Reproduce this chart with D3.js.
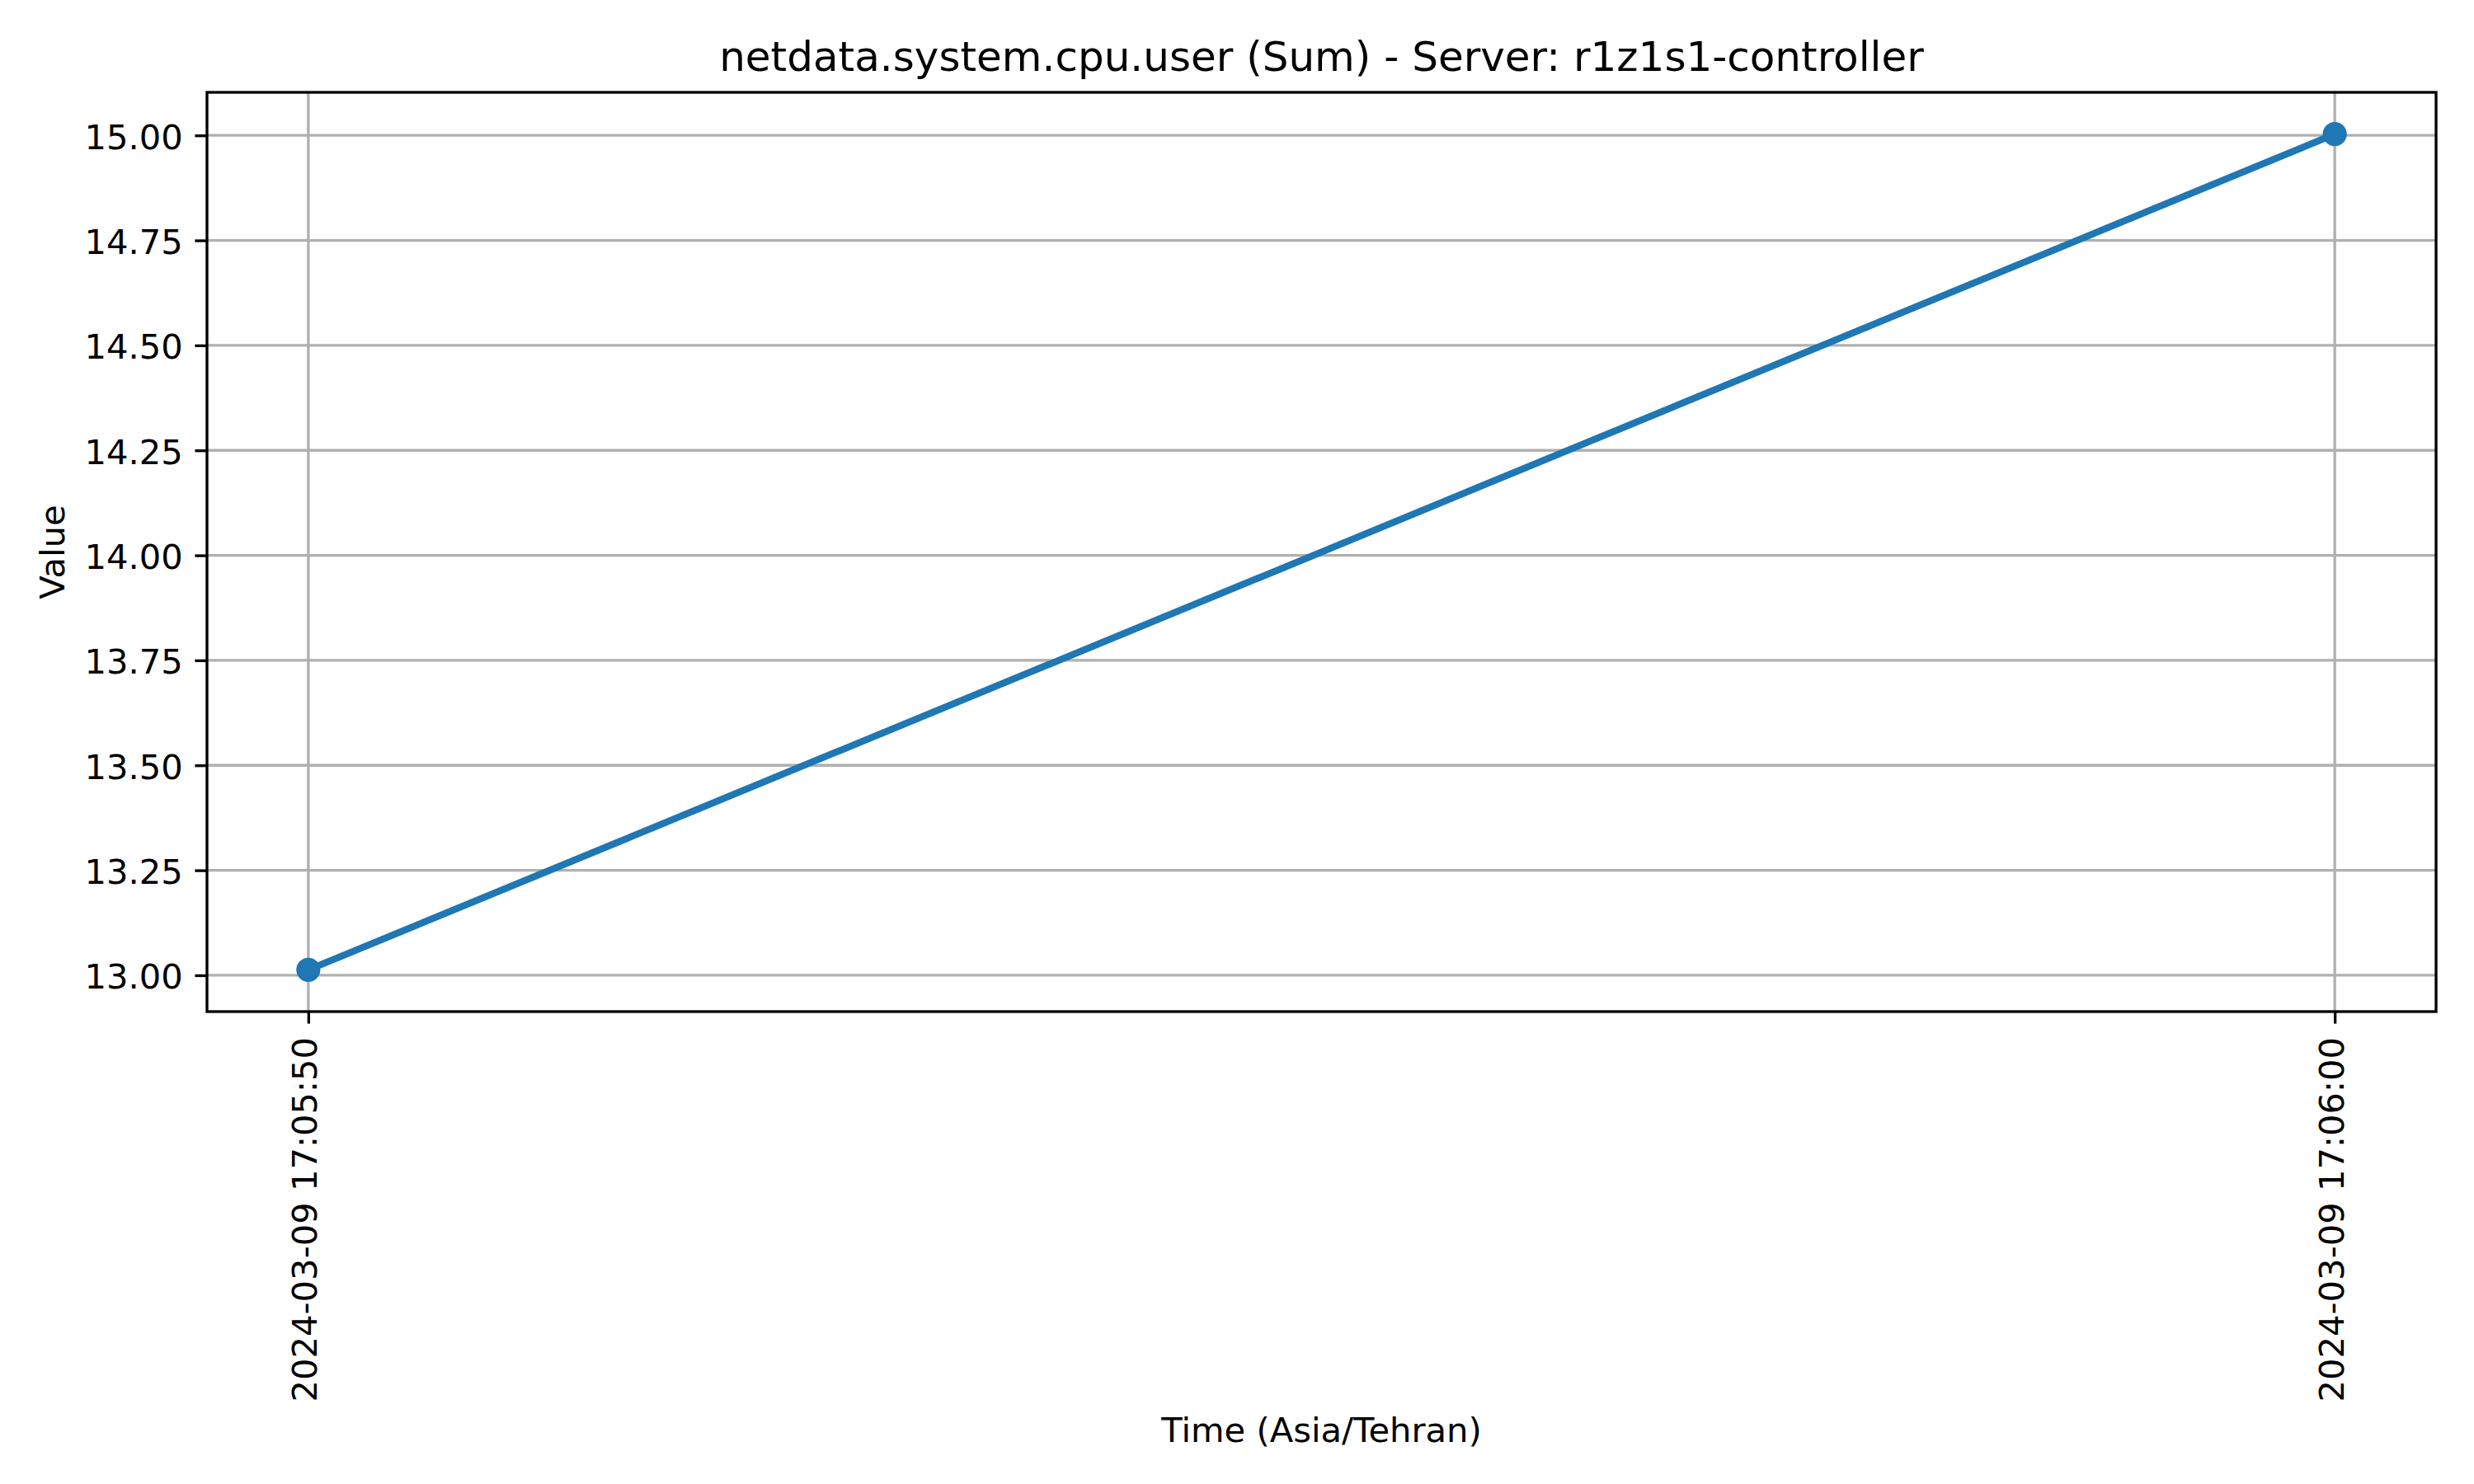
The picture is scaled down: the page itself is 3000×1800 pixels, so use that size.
<!DOCTYPE html>
<html>
<head>
<meta charset="utf-8">
<script src="https://cdn.jsdelivr.net/npm/d3@7"></script>
<style>
  html, body { margin: 0; padding: 0; background: #fff; }
  svg { display: block; font-family: "DejaVu Sans", sans-serif; }
</style>
</head>
<body>
<svg id="chart" width="3000" height="1800"></svg>
<script>
// ---- data ----
const times = ["2024-03-09 17:05:50", "2024-03-09 17:06:00"];
const values = [13.013, 15.003];
const yTicks = [13.00, 13.25, 13.50, 13.75, 14.00, 14.25, 14.50, 14.75, 15.00];
const titleText = "netdata.system.cpu.user (Sum) - Server: r1z1s1-controller";
const xLabel = "Time (Asia/Tehran)";
const yLabel = "Value";

// ---- layout ----
const W = 3000, H = 1800;
const mL = 251, mR = 2954, mT = 112, mB = 1227;
const color = "#1f77b4";
const fs = 41.67;

const parse = d3.timeParse("%Y-%m-%d %H:%M:%S");
const fmt = d3.timeFormat("%Y-%m-%d %H:%M:%S");
const data = times.map((t, i) => ({ t: parse(t), v: values[i] }));

const svg = d3.select("#chart");
svg.append("rect").attr("width", W).attr("height", H).attr("fill", "#fff");

const tExt = d3.extent(data, d => d.t);
const tSpan = tExt[1] - tExt[0];
const x = d3.scaleTime()
  .domain([new Date(+tExt[0] - 0.05 * tSpan), new Date(+tExt[1] + 0.05 * tSpan)])
  .range([mL, mR]);

const vExt = d3.extent(data, d => d.v);
const vSpan = vExt[1] - vExt[0];
const y = d3.scaleLinear()
  .domain([vExt[0] - 0.05 * vSpan, vExt[1] + 0.05 * vSpan])
  .range([mB, mT]);

// grid
const grid = svg.append("g");
grid.selectAll("line.gx").data(data).enter().append("line")
  .attr("x1", d => x(d.t)).attr("x2", d => x(d.t))
  .attr("y1", mT).attr("y2", mB)
  .attr("stroke", "#b0b0b0").attr("stroke-width", 3.33);
grid.selectAll("line.gy").data(yTicks).enter().append("line")
  .attr("x1", mL).attr("x2", mR)
  .attr("y1", d => y(d)).attr("y2", d => y(d))
  .attr("stroke", "#b0b0b0").attr("stroke-width", 3.33);

// line
const line = d3.line().x(d => x(d.t)).y(d => y(d.v));
svg.append("path").datum(data)
  .attr("d", line)
  .attr("fill", "none")
  .attr("stroke", color)
  .attr("stroke-width", 8.33)
  .attr("stroke-linecap", "square")
  .attr("stroke-linejoin", "round");

svg.selectAll("circle.pt").data(data).enter().append("circle")
  .attr("cx", d => x(d.t)).attr("cy", d => y(d.v))
  .attr("r", 12.5)
  .attr("fill", color)
  .attr("stroke", color)
  .attr("stroke-width", 4.17);

// y axis
const yAxis = d3.axisLeft(y).tickValues(yTicks).tickFormat(d3.format(".2f"))
  .tickSize(14.58).tickPadding(14.58);
const gy = svg.append("g").attr("transform", `translate(${mL},0)`).call(yAxis);
gy.select(".domain").remove();
gy.selectAll(".tick line").attr("stroke", "#000").attr("stroke-width", 3.33);
gy.selectAll(".tick text")
  .attr("font-size", fs).attr("font-family", "DejaVu Sans").attr("fill", "#000")
  .attr("dy", "0.38em");

// x axis
const xAxis = d3.axisBottom(x).tickValues(data.map(d => d.t)).tickFormat(fmt)
  .tickSize(14.58).tickPadding(0);
const gx = svg.append("g").attr("transform", `translate(0,${mB})`).call(xAxis);
gx.select(".domain").remove();
gx.selectAll(".tick line").attr("stroke", "#000").attr("stroke-width", 3.33);
gx.selectAll(".tick text")
  .attr("font-size", fs).attr("font-family", "DejaVu Sans").attr("fill", "#000")
  .attr("text-anchor", "end")
  .attr("y", 0).attr("dy", "0.24em")
  .attr("transform", "translate(0,31) rotate(-90)");

// spines
svg.append("rect")
  .attr("x", mL).attr("y", mT)
  .attr("width", mR - mL).attr("height", mB - mT)
  .attr("fill", "none").attr("stroke", "#000").attr("stroke-width", 3.33);

// labels
svg.append("text")
  .attr("x", (mL + mR) / 2).attr("y", 86)
  .attr("text-anchor", "middle")
  .attr("font-size", 50).attr("fill", "#000")
  .text(titleText);

svg.append("text")
  .attr("x", (mL + mR) / 2).attr("y", 1749)
  .attr("text-anchor", "middle")
  .attr("font-size", fs).attr("fill", "#000")
  .text(xLabel);

svg.append("text")
  .attr("transform", `translate(78,${(mT + mB) / 2}) rotate(-90)`)
  .attr("text-anchor", "middle")
  .attr("font-size", fs).attr("fill", "#000")
  .text(yLabel);
</script>
</body>
</html>
